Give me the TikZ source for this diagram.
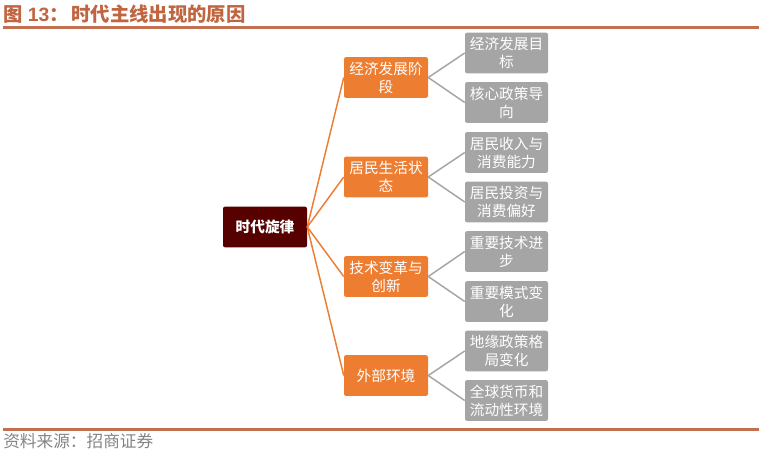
\documentclass[tikz,border=0pt]{standalone}
\usepackage{fontspec}
\setmainfont{Liberation Sans}
\newfontfamily\cjk{Noto Sans CJK SC}
\definecolor{rulebrown}{HTML}{C27050}
\definecolor{titlebrown}{HTML}{C0653F}
\definecolor{boxorange}{HTML}{ED7D31}
\definecolor{boxgrey}{HTML}{A5A5A5}
\definecolor{rootred}{HTML}{560000}
\tikzset{
    box/.style = {rounded corners = 1.5pt, minimum width = 63pt, minimum height = 30.5pt,
        inner sep = 0pt, align = center, text = white, font = \cjk\fontsize{11}{13.5}\selectfont},
    rootbox/.style = {box, fill = rootred, font = \cjk\bfseries\fontsize{11}{13.5}\selectfont},
    mainbox/.style = {box, fill = boxorange},
    subbox/.style = {box, fill = boxgrey, minimum width = 62.25pt},
    orangeline/.style = {draw = boxorange, line width = 1.1pt},
    greyline/.style = {draw = boxgrey, line width = 1.1pt},
}
\begin{document}
\begin{tikzpicture}[x = 0.75pt, y = -0.75pt]
        \useasboundingbox (0, 0) rectangle (764, 455);

        % title and rules
        \node [anchor = west, inner sep = 0pt, text = titlebrown] (title) at (3, 14)
            {\cjk\bfseries\fontsize{14.5}{16}\selectfont 图\hspace{4pt}{\fontspec{Liberation Sans}\bfseries 13}：\hspace{2pt}时代主线出现的原因};
        \fill [rulebrown] (3, 26) rectangle (759, 29);
        \fill [rulebrown] (3, 428) rectangle (759, 431);
        \node [anchor = west, inner sep = 0pt, text = boxgrey!80!black] (source) at (3, 441)
            {\cjk\fontsize{12.5}{14}\selectfont 资料来源：招商证券};

        % root and main branches
        \node [rootbox] (root) at (265, 227) {时代旋律};

        \node [mainbox] (stage) at (386, 77.5) {经济发展阶\\段};
        \node [mainbox] (life) at (386, 177) {居民生活状\\态};
        \node [mainbox] (tech) at (386, 276.5) {技术变革与\\创新};
        \node [mainbox] (outer) at (386, 375.5) {外部环境};

        % leaves
        \node [subbox] (goal) at (506.5, 53) {经济发展目\\标};
        \node [subbox] (policy) at (506.5, 102.5) {核心政策导\\向};
        \node [subbox] (income) at (506.5, 152.5) {居民收入与\\消费能力};
        \node [subbox] (invest) at (506.5, 202) {居民投资与\\消费偏好};
        \node [subbox] (progress) at (506.5, 251.5) {重要技术进\\步};
        \node [subbox] (mode) at (506.5, 301.5) {重要模式变\\化};
        \node [subbox] (geo) at (506.5, 351) {地缘政策格\\局变化};
        \node [subbox] (money) at (506.5, 400.5) {全球货币和\\流动性环境};

        % connectors
        \foreach \b in {stage, life, tech, outer}
            \draw [orangeline] (root.east) -- (\b.west);
        \foreach \b/\l in {stage/goal, stage/policy, life/income, life/invest,
                tech/progress, tech/mode, outer/geo, outer/money}
            \draw [greyline] (\b.east) -- (\l.west);
    \end{tikzpicture}
\end{document}
